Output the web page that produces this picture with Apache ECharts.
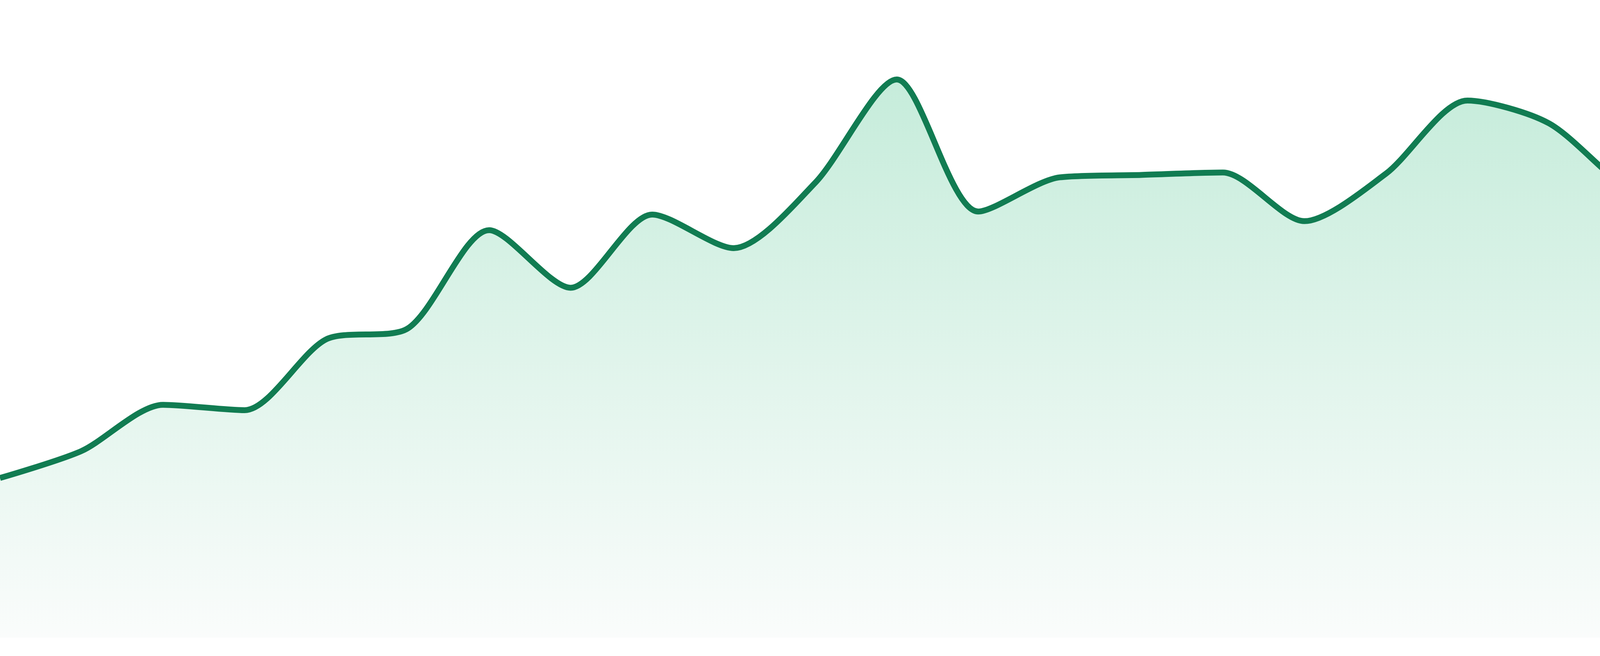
<!DOCTYPE html>
<html>
<head>
<meta charset="utf-8">
<script src="https://cdn.jsdelivr.net/npm/echarts@6/dist/echarts.min.js"></script>
<style>
html,body{margin:0;padding:0;background:#ffffff;}
#chart{width:4800px;height:1680px;}
</style>
</head>
<body>
<div id="chart"></div>
<script>
const hours = ['00:00','01:00','02:00','03:00','04:00','05:00','06:00','07:00','08:00','09:00','10:00','11:00',
               '12:00','13:00','14:00','15:00','16:00','17:00','18:00','19:00','20:00','21:00','22:00','23:00'];
const values = [26.6, 31.1, 38.8, 37.9, 49.7, 51.5, 67.9, 58.3, 70.5, 64.9, 75.8, 93.0,
                71.0, 76.7, 77.1, 77.5, 69.4, 77.3, 89.5, 85.7, 74.5, 69.7, 76.6, 74.3];
const yMin = 0;
const yMax = 100;

const chart = echarts.init(document.getElementById('chart'), null, {renderer: 'canvas'});
chart.setOption({
  animation: false,
  backgroundColor: '#ffffff',
  grid: {left: 0, right: 0, top: 96, bottom: 47, containLabel: false},
  xAxis: {
    type: 'category',
    data: hours,
    boundaryGap: false,
    show: false
  },
  yAxis: {
    type: 'value',
    min: yMin,
    max: yMax,
    show: false
  },
  series: [{
    type: 'line',
    data: values,
    smooth: 0.27,
    symbol: 'none',
    lineStyle: {color: '#117c52', width: 15},
    itemStyle: {color: '#117c52'},
    areaStyle: {
      color: new echarts.graphic.LinearGradient(0, 0, 0, 1, [
        {offset: 0, color: '#ade4cb'},
        {offset: 1, color: '#f8fbfa'}
      ])
    }
  }]
});
</script>
</body>
</html>
